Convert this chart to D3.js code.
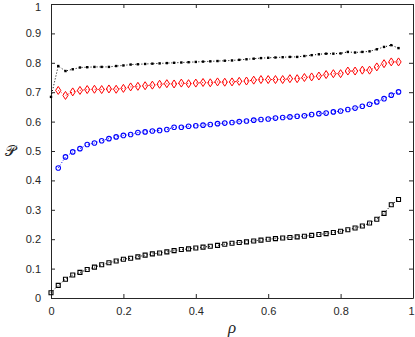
<!DOCTYPE html>
<html>
<head>
<meta charset="utf-8">
<script src="https://cdnjs.cloudflare.com/ajax/libs/d3/7.8.5/d3.min.js"></script>
<style>
  body { margin: 0; background: #fff; }
  svg { display: block; }
  .axis text { font-family: "Liberation Sans", Arial, sans-serif; font-size: 11px; fill: #262626; }
  .axis path, .axis line { stroke: #262626; }
</style>
</head>
<body>
<div id="chart"></div>
<script>
// rho values 0 .. 0.96 step 0.02
var rho = [0,0.02,0.04,0.06,0.08,0.1,0.12,0.14,0.16,0.18,0.2,0.22,0.24,0.26,0.28,0.3,0.32,0.34,0.36,0.38,
  0.4,0.42,0.44,0.46,0.48,0.5,0.52,0.54,0.56,0.58,0.6,0.62,0.64,0.66,0.68,0.7,0.72,0.74,0.76,0.78,
  0.8,0.82,0.84,0.86,0.88,0.9,0.92,0.94,0.96];

// black dots (top series), starts at rho = 0
var dots = [0.684,0.789,0.772,0.778,0.784,0.785,0.786,0.786,0.786,0.789,0.791,0.794,0.795,0.796,0.797,0.798,0.799,0.8,0.801,0.802,
  0.803,0.804,0.805,0.806,0.807,0.808,0.81,0.812,0.814,0.816,0.817,0.818,0.819,0.82,0.82,0.823,0.826,0.829,0.831,0.831,
  0.832,0.837,0.835,0.837,0.839,0.846,0.854,0.86,0.85];

// red diamonds, start at rho = 0.02 (null at 0)
var diamonds = [null,0.706,0.689,0.701,0.706,0.709,0.71,0.709,0.711,0.71,0.713,0.718,0.72,0.722,0.724,0.727,0.729,0.728,0.731,0.729,
  0.731,0.733,0.732,0.735,0.734,0.735,0.737,0.738,0.741,0.743,0.743,0.743,0.743,0.746,0.746,0.75,0.752,0.755,0.76,0.763,
  0.763,0.772,0.772,0.775,0.775,0.786,0.797,0.803,0.803];

// blue circles, start at rho = 0.02
var circles = [null,0.442,0.48,0.497,0.508,0.522,0.527,0.535,0.542,0.548,0.553,0.556,0.563,0.565,0.568,0.57,0.573,0.581,0.581,0.584,
  0.586,0.588,0.59,0.593,0.595,0.597,0.6,0.602,0.605,0.607,0.609,0.612,0.614,0.616,0.618,0.62,0.624,0.627,0.629,0.633,
  0.636,0.641,0.646,0.652,0.659,0.667,0.678,0.69,0.701];

// black squares (bottom series)
var squares = [0.018,0.043,0.064,0.078,0.087,0.097,0.105,0.113,0.12,0.126,0.132,0.135,0.14,0.146,0.15,0.153,0.157,0.161,0.165,0.167,
  0.17,0.173,0.176,0.179,0.183,0.186,0.189,0.191,0.194,0.197,0.2,0.202,0.204,0.206,0.208,0.21,0.213,0.216,0.219,0.223,
  0.227,0.232,0.238,0.245,0.255,0.268,0.288,0.317,0.335];

var xTicks = [0, 0.2, 0.4, 0.6, 0.8, 1];
var yTicks = [0, 0.1, 0.2, 0.3, 0.4, 0.5, 0.6, 0.7, 0.8, 0.9, 1];

var W = 415, H = 337;
var margin = {top: 4, right: 2, bottom: 39, left: 51};
var w = W - margin.left - margin.right, h = H - margin.top - margin.bottom;

var svg = d3.select("#chart").append("svg").attr("width", W).attr("height", H);
var g = svg.append("g").attr("transform", "translate(" + margin.left + "," + margin.top + ")");

var x = d3.scaleLinear().domain([0, 1]).range([0, w]);
var y = d3.scaleLinear().domain([0, 1]).range([h, 0]);

function fmt(d) { return d === 0 ? "0" : d === 1 ? "1" : d3.format(".1f")(d); }

var xa = g.append("g").attr("class", "axis").attr("transform", "translate(0," + h + ")")
  .call(d3.axisBottom(x).tickValues(xTicks).tickFormat(fmt).tickSizeInner(-4).tickSizeOuter(0).tickPadding(9));
// keep the last label inside the picture
xa.selectAll(".tick text").filter(function (d) { return d === 1; }).attr("dx", "-2");

var ya = g.append("g").attr("class", "axis")
  .call(d3.axisLeft(y).tickValues(yTicks).tickFormat(fmt).tickSizeInner(-4).tickSizeOuter(0).tickPadding(10));
ya.selectAll(".tick text").filter(function (d) { return d === 1; }).attr("dy", "0.55em");

g.append("g").attr("class", "axis")
  .call(d3.axisTop(x).tickValues(xTicks).tickFormat("").tickSizeInner(-4).tickSizeOuter(0));
g.append("g").attr("class", "axis").attr("transform", "translate(" + w + ",0)")
  .call(d3.axisRight(y).tickValues(yTicks).tickFormat("").tickSizeInner(-4).tickSizeOuter(0));

function series(vals, color, shape) {
  var pts = rho.map(function (r, i) { return {x: r, y: vals[i]}; }).filter(function (d) { return d.y !== null; });
  var line = d3.line().x(function (d) { return x(d.x); }).y(function (d) { return y(d.y); });
  g.append("path").datum(pts).attr("d", line)
    .attr("fill", "none").attr("stroke", color).attr("stroke-width", 1).attr("stroke-dasharray", "1,2");
  var sym = g.append("g").selectAll("path").data(pts).enter().append("path")
    .attr("transform", function (d) { return "translate(" + x(d.x) + "," + y(d.y) + ")"; });
  if (shape === "diamond") {
    sym.attr("d", "M0,-4L2.6,0L0,4L-2.6,0Z").attr("fill", "none").attr("stroke", color).attr("stroke-width", 1);
  } else if (shape === "circle") {
    sym.attr("d", d3.symbol(d3.symbolCircle, 16)()).attr("fill", "none").attr("stroke", color).attr("stroke-width", 1.1);
  } else if (shape === "square") {
    sym.attr("d", "M-2,-2h4v4h-4Z").attr("fill", "none").attr("stroke", color).attr("stroke-width", 1.1);
  } else {
    sym.attr("d", "M-1.2,-1.2h2.4v2.4h-2.4Z").attr("fill", color);
  }
}

series(squares, "#000", "square");
series(circles, "#0000ff", "circle");
series(diamonds, "#ff0000", "diamond");
series(dots, "#000", "dot");

// axis labels
svg.append("text").attr("x", margin.left + w / 2).attr("y", 333)
  .attr("text-anchor", "middle").style("font-family", "'Liberation Serif', serif").style("font-style", "italic")
  .style("font-size", "17px").attr("fill", "#262626").text("ρ");
svg.append("text").attr("x", 10).attr("y", margin.top + y(0.5)).attr("dy", "0.35em")
  .attr("text-anchor", "middle").style("font-family", "'DejaVu Sans', 'DejaVu Serif', serif")
  .style("font-size", "15px").attr("fill", "#262626").text("𝒫");
</script>
</body>
</html>
